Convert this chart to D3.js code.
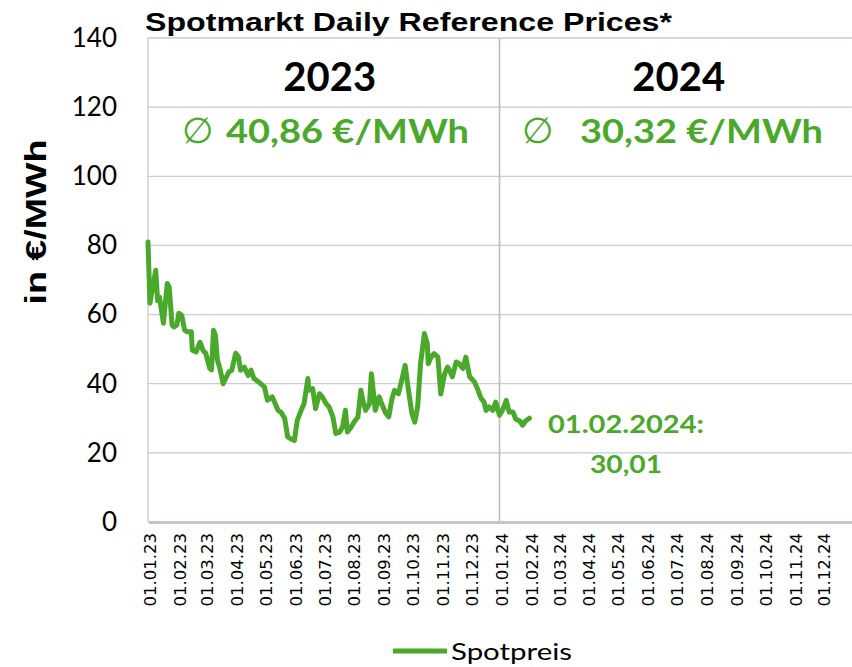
<!DOCTYPE html>
<html>
<head>
<meta charset="utf-8">
<script src="https://cdn.jsdelivr.net/npm/d3@7"></script>
<style>
	body { margin: 0; background: #fff; }
	svg { display: block; }
</style>
</head>
<body>
<div id="chart"></div>
<script>

	var 
		dates = ["2023-01-01","2023-01-03","2023-01-09","2023-01-11","2023-01-13","2023-01-17","2023-01-21","2023-01-23",
			"2023-01-26","2023-01-28","2023-01-31","2023-02-02","2023-02-05","2023-02-08","2023-02-11","2023-02-15",
			"2023-02-16","2023-02-20","2023-02-24","2023-02-27","2023-03-02","2023-03-06","2023-03-08","2023-03-10",
			"2023-03-12","2023-03-14","2023-03-17","2023-03-20","2023-03-26","2023-03-29","2023-04-02","2023-04-05",
			"2023-04-07","2023-04-11","2023-04-15","2023-04-18","2023-04-21","2023-04-26","2023-05-02","2023-05-05",
			"2023-05-10","2023-05-16","2023-05-19","2023-05-23","2023-05-26","2023-05-29","2023-06-02","2023-06-05",
			"2023-06-09","2023-06-12","2023-06-16","2023-06-17","2023-06-21","2023-06-24","2023-06-28","2023-07-01",
			"2023-07-05","2023-07-08","2023-07-12","2023-07-15","2023-07-19","2023-07-22","2023-07-25","2023-07-27",
			"2023-07-31","2023-08-03","2023-08-07","2023-08-10","2023-08-12","2023-08-15","2023-08-19","2023-08-21",
			"2023-08-25","2023-08-29","2023-09-02","2023-09-05","2023-09-08","2023-09-11","2023-09-14","2023-09-18",
			"2023-09-21","2023-09-25","2023-09-28","2023-10-02","2023-10-05","2023-10-08","2023-10-11","2023-10-15",
			"2023-10-18","2023-10-19","2023-10-22","2023-10-25","2023-10-29","2023-11-01","2023-11-05","2023-11-08",
			"2023-11-10","2023-11-13","2023-11-17","2023-11-20","2023-11-24","2023-11-27","2023-12-01","2023-12-06",
			"2023-12-09","2023-12-13","2023-12-16","2023-12-18","2023-12-21","2023-12-25","2023-12-28","2024-01-01",
			"2024-01-04","2024-01-08","2024-01-11","2024-01-15","2024-01-18","2024-01-22","2024-01-25","2024-01-28",
			"2024-02-01"],

		spotpreis = [81, 63.3, 72.8, 64, 65, 57.5, 69, 68,
			57, 56.4, 57, 60.4, 59.8, 55.5, 55, 55,
			49.7, 49.2, 52, 49.7, 48.8, 44.5, 44, 55.5,
			54, 47, 44, 40, 43.4, 43.9, 48.8, 47.7,
			43.9, 44.8, 42.4, 43.9, 41.5, 40.5, 39, 35.2,
			36.2, 32.3, 31.8, 29.9, 24.6, 24.1, 23.6, 29.4,
			32.3, 34.2, 41.5, 38.1, 38.6, 32.8, 37.1, 36.2,
			34.2, 33.3, 30.4, 25.6, 26, 27.5, 32.3, 26,
			27.5, 28.9, 30.4, 38.1, 35.2, 32.3, 34.2, 42.9,
			32.3, 36.2, 33.3, 31.4, 30.4, 35.2, 38.1, 37.1,
			40.5, 45.3, 39, 31.4, 28.9, 33.3, 45.8, 54.5,
			51.6, 45.8, 47.7, 48.7, 47.7, 37, 42.9, 44.8,
			43.9, 42, 46.3, 45.8, 44.4, 47.7, 42, 40.5,
			38.6, 35.7, 34.7, 32.3, 33.3, 32.3, 34.7, 30.9,
			32.3, 35.2, 31.8, 31.8, 29.7, 29.2, 28, 29.2,
			30.01],

		years = ["2023", "2024"],
		yearStart = ["2023-01-01", "2024-01-01", "2025-01-01"],
		averages = ["40,86 €/MWh", "30,32 €/MWh"],
		yTicks = [0, 20, 40, 60, 80, 100, 120, 140],
		lastLabel = ["01.02.2024:", "30,01"],

		green = "#4aa82b",
		width = 852,
		height = 667,
		margin = {left: 148, top: 38, right: 0, bottom: 145},

		parse = d3.timeParse("%Y-%m-%d"),
		fmt = d3.timeFormat("%d.%m.%y"),

		data = dates.map(function(d, i){ return {date: parse(d), value: spotpreis[i]}; }),

		x = d3.scaleTime()
			.domain([parse(yearStart[0]), parse(yearStart[2])])
			.range([margin.left, width - margin.right]),

		y = d3.scaleLinear()
			.domain([0, 140])
			.range([height - margin.bottom, margin.top]);

	var svg = d3.select("#chart")
		.append("svg")
		.attr("width", width)
		.attr("height", height);

	// horizontal grid
	svg.append("g")
		.selectAll("line")
		.data(yTicks.slice(1))
		.enter().append("line")
		.attr("x1", margin.left)
		.attr("x2", width)
		.attr("y1", function(d){ return y(d); })
		.attr("y2", function(d){ return y(d); })
		.style("stroke", "#c6cdd5")
		.style("stroke-width", 1.3);

	// left border
	svg.append("line")
		.attr("x1", margin.left).attr("x2", margin.left)
		.attr("y1", y(140)).attr("y2", y(0))
		.style("stroke", "#c6cdd5")
		.style("stroke-width", 1.3);

	// year separator
	svg.append("line")
		.attr("x1", x(parse(yearStart[1]))).attr("x2", x(parse(yearStart[1])))
		.attr("y1", y(140)).attr("y2", y(0))
		.style("stroke", "#bcbcbc")
		.style("stroke-width", 1.6);

	// y axis labels
	var yAxis = d3.axisLeft(y).tickValues(yTicks).tickSize(0).tickPadding(0);
	var gy = svg.append("g")
		.attr("transform", "translate(117,0)")
		.call(yAxis);
	gy.select(".domain").remove();
	gy.selectAll("text")
		.style("font-family", "Lato, sans-serif")
		.style("font-size", "26px")
		.style("fill", "#000");

	// x axis
	var xAxis = d3.axisBottom(x)
		.tickValues(d3.timeMonths(parse(yearStart[0]), parse(yearStart[2])))
		.tickFormat(fmt)
		.tickSize(0);
	var gx = svg.append("g")
		.attr("transform", "translate(0," + y(0) + ")")
		.call(xAxis);
	gx.select(".domain")
		.style("stroke", "#bfc6ce")
		.style("stroke-width", 3);
	gx.selectAll("text")
		.attr("transform", "rotate(-90)")
		.attr("x", -11)
		.attr("y", 2)
		.attr("dy", "0.35em")
		.style("text-anchor", "end")
		.style("font-family", "'DejaVu Sans', sans-serif")
		.style("font-size", "16.5px")
		.style("fill", "#000");

	// spot price line
	var line = d3.line()
		.x(function(d){ return x(d.date); })
		.y(function(d){ return y(d.value); });

	svg.append("path")
		.datum(data)
		.attr("d", line)
		.style("fill", "none")
		.style("stroke", green)
		.style("stroke-width", 5)
		.style("stroke-linejoin", "round")
		.style("stroke-linecap", "round");

	// year headers
	var mid = [
		(x(parse(yearStart[0])) + x(parse(yearStart[1]))) / 2 + 6,
		(x(parse(yearStart[1])) + x(parse(yearStart[2]))) / 2 + 3
	];

	svg.selectAll(".year")
		.data(years)
		.enter().append("text")
		.attr("class", "year")
		.attr("x", function(d, i){ return mid[i]; })
		.attr("y", 90.5)
		.attr("text-anchor", "middle")
		.style("font-family", "Lato, sans-serif")
		.style("font-weight", "bold")
		.style("font-size", "40px")
		.text(function(d){ return d; });

	// averages
	var avgX = [226, 580],
		symX = [182, 522];

	svg.selectAll(".avgsym")
		.data(years)
		.enter().append("text")
		.attr("class", "avgsym")
		.attr("x", function(d, i){ return symX[i]; })
		.attr("y", 143)
		.style("font-family", "'DejaVu Sans', sans-serif")
		.style("font-size", "36px")
		.style("fill", green)
		.text("∅");

	svg.selectAll(".avg")
		.data(averages)
		.enter().append("text")
		.attr("class", "avg")
		.attr("x", function(d, i){ return avgX[i]; })
		.attr("y", 142.5)
		.attr("textLength", 243)
		.attr("lengthAdjust", "spacingAndGlyphs")
		.style("font-family", "Lato, sans-serif")
		.style("font-weight", "bold")
		.style("font-size", "33px")
		.style("fill", green)
		.text(function(d){ return d; });

	// last value annotation
	svg.append("text")
		.attr("x", 548)
		.attr("y", 433)
		.attr("textLength", 156)
		.attr("lengthAdjust", "spacingAndGlyphs")
		.style("font-family", "Lato, sans-serif")
		.style("font-weight", "bold")
		.style("font-size", "24px")
		.style("fill", green)
		.text(lastLabel[0]);

	svg.append("text")
		.attr("x", 626)
		.attr("y", 473)
		.attr("text-anchor", "middle")
		.attr("textLength", 72)
		.attr("lengthAdjust", "spacingAndGlyphs")
		.style("font-family", "Lato, sans-serif")
		.style("font-weight", "bold")
		.style("font-size", "24px")
		.style("fill", green)
		.text(lastLabel[1]);

	// title
	svg.append("text")
		.attr("x", 145)
		.attr("y", 30.5)
		.attr("textLength", 527)
		.attr("lengthAdjust", "spacingAndGlyphs")
		.style("font-family", "'Liberation Sans', Arial, sans-serif")
		.style("font-weight", "bold")
		.style("font-size", "25px")
		.text("Spotmarkt Daily Reference Prices*");

	// y axis title
	svg.append("text")
		.attr("transform", "translate(46,222) rotate(-90)")
		.attr("text-anchor", "middle")
		.attr("textLength", 165)
		.attr("lengthAdjust", "spacingAndGlyphs")
		.style("font-family", "'Liberation Sans', Arial, sans-serif")
		.style("font-weight", "bold")
		.style("font-size", "30px")
		.text("in €/MWh");

	// legend
	var legend = svg.append("g");
	legend.append("line")
		.attr("x1", 393).attr("x2", 447)
		.attr("y1", 651).attr("y2", 651)
		.style("stroke", green)
		.style("stroke-width", 5);
	legend.append("text")
		.attr("x", 451)
		.attr("y", 660)
		.attr("textLength", 121)
		.attr("lengthAdjust", "spacingAndGlyphs")
		.style("font-family", "Lato, sans-serif")
		.style("font-size", "24px")
		.text("Spotpreis");

</script>
</body>
</html>
